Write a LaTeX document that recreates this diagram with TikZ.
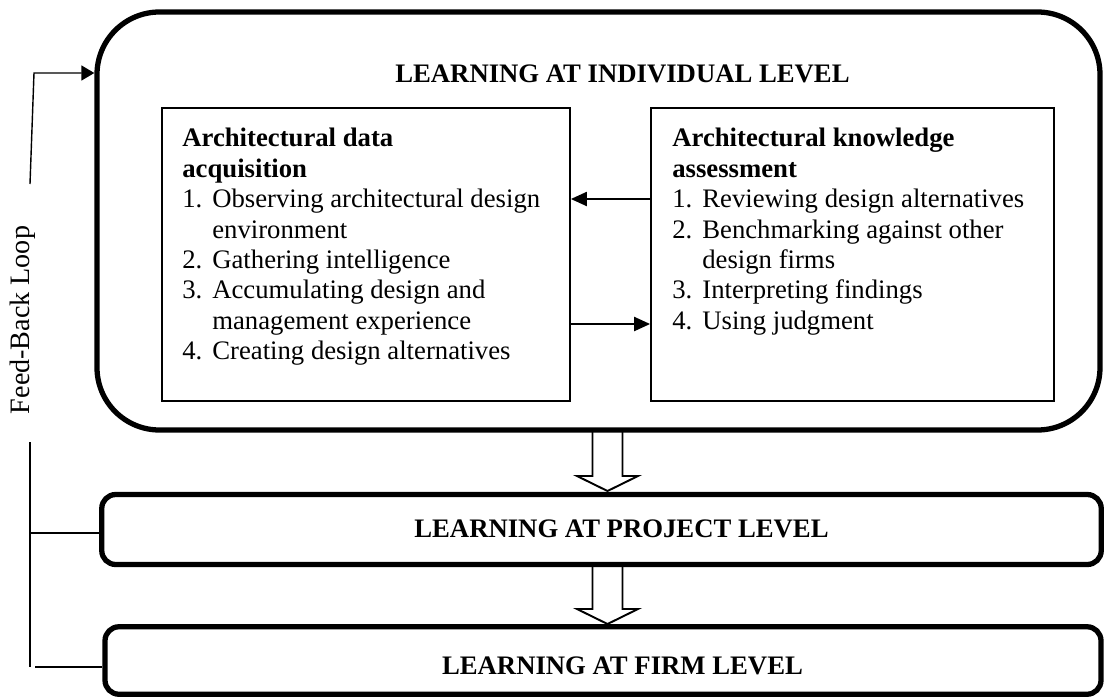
\documentclass[tikz,border=0pt]{standalone}
\usepackage{fontspec}
\setmainfont{Liberation Serif}
\usetikzlibrary{arrows.meta}
\newcommand{\listbox}[1]{\begin{minipage}[t]{7.5cm}\raggedright#1\end{minipage}}
\newcommand{\lstitem}[2]{\par\hangindent=0.6cm\hangafter=1\noindent\makebox[0.6cm][l]{#1}#2}
% hollow block arrow: #1 top centre, #2 shaft length
\newcommand{\flowarrow}[2]{\draw[hollowarrow] ([xshift=-0.3cm]#1) -- ++(0,-#2) -- ++(-0.31,0)
	-- ++(0.61,-0.3) -- ++(0.61,0.3) -- ++(-0.31,0) -- ++(0,#2);}
\tikzset{
	every node/.style={font=\fontsize{15.2}{17.3}\selectfont},
	>={Triangle[length=0.32cm,width=0.28cm]},
	levelbox/.style={draw, line width=3pt, inner sep=0pt},
	innerbox/.style={draw, line width=1pt, inner sep=0pt},
	listtext/.style={anchor=north west, inner sep=0pt},
	leveltitle/.style={font=\fontsize{15.2}{17.3}\selectfont\bfseries, inner sep=0pt},
	hollowarrow/.style={draw, line width=1.1pt, line join=miter},
}
\begin{document}
\begin{tikzpicture}
	\useasboundingbox (0,0) rectangle (22.08,-13.94);

	% levels
	\node[levelbox, rounded corners=1.25cm, minimum width=20.06cm, minimum height=8.36cm] (indiv) at (11.97,-4.42) {};
	\node[levelbox, rounded corners=0.28cm, minimum width=19.99cm, minimum height=1.40cm] (proj) at (12.03,-10.59) {};
	\node[levelbox, rounded corners=0.28cm, minimum width=19.92cm, minimum height=1.35cm] (firm) at (12.06,-13.21) {};

	\node[leveltitle] (indivtitle) at (12.45,-1.48) {LEARNING AT INDIVIDUAL LEVEL};
	\node[leveltitle] (projtitle) at (12.43,-10.58) {LEARNING AT PROJECT LEVEL};
	\node[leveltitle] (firmtitle) at (12.45,-13.32) {LEARNING AT FIRM LEVEL};

	% individual level boxes
	\node[innerbox, minimum width=8.16cm, minimum height=5.86cm] (acq) at (7.32,-5.09) {};
	\node[innerbox, minimum width=8.06cm, minimum height=5.86cm] (assess) at (17.05,-5.09) {};

	\node[listtext] (acqtext) at (3.64,-2.56) {\listbox{\textbf{Architectural data\\acquisition}
		\lstitem{1.}{Observing architectural design\newline environment}
		\lstitem{2.}{Gathering intelligence}
		\lstitem{3.}{Accumulating design and\newline management experience}
		\lstitem{4.}{Creating design alternatives}}};
	\node[listtext] (assesstext) at (13.44,-2.56) {\listbox{\textbf{Architectural knowledge\\assessment}
		\lstitem{1.}{Reviewing design alternatives}
		\lstitem{2.}{Benchmarking against other\newline design firms}
		\lstitem{3.}{Interpreting findings}
		\lstitem{4.}{Using judgment}}};

	\path [->, line width=1.2pt] ([yshift=1.11cm]assess.west) edge node {} ([yshift=1.11cm]acq.east);
	\path [->, line width=1.2pt] ([yshift=-1.39cm]acq.east) edge node {} ([yshift=-1.39cm]assess.west);

	% flow between levels
	\coordinate (down1) at (12.15,-8.62);
	\coordinate (down2) at (12.15,-11.29);
	\flowarrow{down1}{0.9}
	\flowarrow{down2}{0.89}

	% feed-back loop
	\node[rotate=90, font=\fontsize{16}{18}\selectfont] (loop) at (0.46,-6.40) {Feed-Back Loop};
	\coordinate (fbtop) at (0.60,-3.68);
	\coordinate (fbbend) at (0.68,-1.46);
	\coordinate (fbstart) at (0.60,-8.84);
	\coordinate (fbend) at (0.60,-13.34);
	\coordinate (fbproj) at (0.60,-10.66);
	\coordinate (fbfoot) at (0.70,-13.34);

	\draw [->, line width=0.8pt, >={Triangle[length=0.26cm,width=0.3cm]}] (fbtop) -- (fbbend) -- (fbbend -| indiv.west);
	\draw [line width=0.8pt] (fbstart) -- (fbend);
	\draw [line width=0.8pt] (fbproj) -- (fbproj -| proj.west);
	\draw [line width=0.8pt] (fbfoot) -- (fbfoot -| firm.west);
\end{tikzpicture}
\end{document}
